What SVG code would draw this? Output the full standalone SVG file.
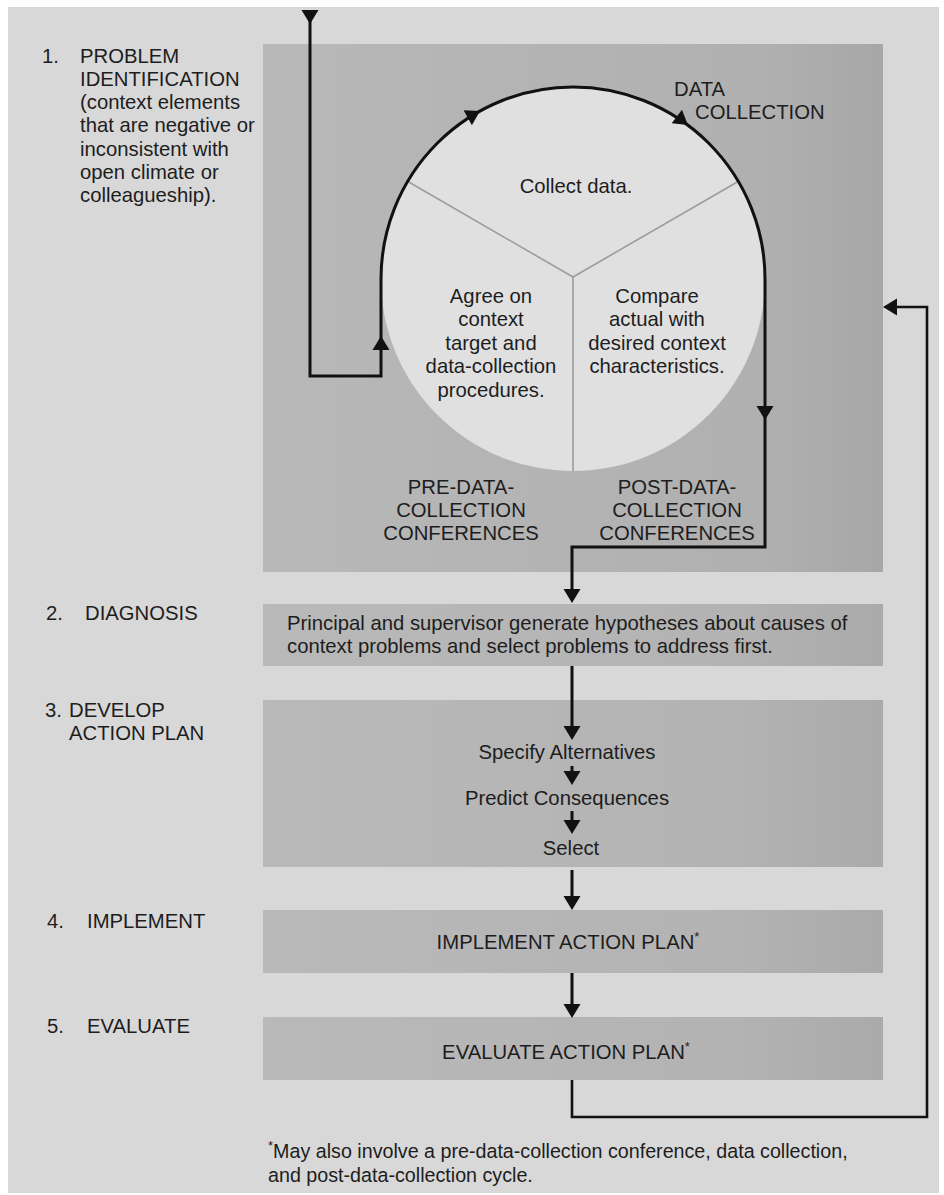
<svg xmlns="http://www.w3.org/2000/svg" xmlns:xlink="http://www.w3.org/1999/xlink" width="944" height="1195" viewBox="0 0 944 1195">
  <style>
    text { font-family: "Liberation Sans", Arial, Helvetica, sans-serif; font-size: 20.3px; fill: #1d1d1d; }
    .c { text-anchor: middle; }
    .note { font-size: 19.7px; }
    .line { fill: none; stroke: #111; stroke-width: 3; stroke-linejoin: miter; }
    .thin { fill: none; stroke: #111; stroke-width: 2.6; }
    .head { fill: #111; }
    .panel { fill: url(#panelFill); }
    .divider { stroke: #9c9c9c; stroke-width: 1.6; fill: none; }
    .sup { font-size: 13px; }
  </style>
  <defs>
    <linearGradient id="panelFill" x1="0" y1="0" x2="1" y2="0">
      <stop offset="0" stop-color="#b9b9b9"/>
      <stop offset="0.75" stop-color="#b3b3b3"/>
      <stop offset="1" stop-color="#aaaaaa"/>
    </linearGradient>
    <linearGradient id="bigFill" x1="0" y1="0" x2="1" y2="0">
      <stop offset="0" stop-color="#b8b8b8"/>
      <stop offset="0.8" stop-color="#b0b0b0"/>
      <stop offset="1" stop-color="#a7a7a7"/>
    </linearGradient>
    <!-- arrowhead, tip at the origin, pointing along +x -->
    <path id="ah" d="M0,0 L-14,-8.5 L-14,8.5 Z"/>
  </defs>

  <!-- paper -->
  <rect x="0" y="0" width="944" height="1195" fill="#ffffff"/>
  <rect x="8" y="7" width="931" height="1186" fill="#d8d8d8"/>

  <!-- stage labels -->
  <g id="label-1">
    <text x="42" y="63">1.</text>
    <text x="80" y="63">PROBLEM</text>
    <text x="80" y="86">IDENTIFICATION</text>
    <text x="80" y="109">(context elements</text>
    <text x="80" y="132">that are negative or</text>
    <text x="80" y="155.5">inconsistent with</text>
    <text x="80" y="178.5">open climate or</text>
    <text x="80" y="201.5">colleagueship).</text>
  </g>
  <g id="label-2">
    <text x="46" y="620">2.</text>
    <text x="85" y="620">DIAGNOSIS</text>
  </g>
  <g id="label-3">
    <text x="45" y="717">3.</text>
    <text x="69" y="717">DEVELOP</text>
    <text x="69" y="740">ACTION PLAN</text>
  </g>
  <g id="label-4">
    <text x="47" y="928">4.</text>
    <text x="87" y="928">IMPLEMENT</text>
  </g>
  <g id="label-5">
    <text x="47" y="1033">5.</text>
    <text x="87" y="1033">EVALUATE</text>
  </g>

  <!-- stage 1: data-collection cycle -->
  <g id="cycle">
    <rect x="263" y="44" width="620" height="528" fill="url(#bigFill)"/>
    <circle cx="573" cy="279" r="192" fill="#e0e0e0"/>
    <path class="divider" d="M573,277 L407,181 M573,277 L739,181 M573,277 V471"/>
    <text class="c" x="576" y="193">Collect data.</text>
    <text class="c" x="491" y="303">Agree on</text>
    <text class="c" x="491" y="326">context</text>
    <text class="c" x="491" y="349.5">target and</text>
    <text class="c" x="491" y="373">data-collection</text>
    <text class="c" x="491" y="396.5">procedures.</text>
    <text class="c" x="657" y="303">Compare</text>
    <text class="c" x="657" y="326">actual with</text>
    <text class="c" x="657" y="349.5">desired context</text>
    <text class="c" x="657" y="373">characteristics.</text>
    <text x="674" y="96">DATA</text>
    <text x="695" y="119">COLLECTION</text>
    <text class="c" x="461" y="494">PRE-DATA-</text>
    <text class="c" x="461" y="517">COLLECTION</text>
    <text class="c" x="461" y="540">CONFERENCES</text>
    <text class="c" x="677" y="494">POST-DATA-</text>
    <text class="c" x="677" y="517">COLLECTION</text>
    <text class="c" x="677" y="540">CONFERENCES</text>
  </g>

  <!-- stage 2 -->
  <g id="diagnosis">
    <rect class="panel" x="263" y="604" width="620" height="62"/>
    <text x="287" y="630">Principal and supervisor generate hypotheses about causes of</text>
    <text x="287" y="652.5">context problems and select problems to address first.</text>
  </g>

  <!-- stage 3 -->
  <g id="action-plan">
    <rect class="panel" x="263" y="700" width="620" height="167"/>
    <text class="c" x="567" y="759">Specify Alternatives</text>
    <text class="c" x="567" y="805">Predict Consequences</text>
    <text class="c" x="571" y="855">Select</text>
  </g>

  <!-- stage 4 -->
  <g id="implement">
    <rect class="panel" x="263" y="910" width="620" height="63"/>
    <text class="c" x="568" y="949">IMPLEMENT ACTION PLAN<tspan class="sup" dy="-8">*</tspan></text>
  </g>

  <!-- stage 5 -->
  <g id="evaluate">
    <rect class="panel" x="263" y="1017" width="620" height="63"/>
    <text class="c" x="566" y="1059">EVALUATE ACTION PLAN<tspan class="sup" dy="-8">*</tspan></text>
  </g>

  <!-- connectors -->
  <g id="connectors">
    <path class="line" d="M310,12 V376 H381 V279 A192,192 0 0 1 765,279 V547 H572 V596"/>
    <path class="line" d="M572,666 V733"/>
    <path class="line" d="M572,766 V778"/>
    <path class="line" d="M572,811 V827"/>
    <path class="line" d="M572,870 V903"/>
    <path class="line" d="M572,973 V1011"/>
    <path class="thin" d="M572,1080 V1117 H927 V307 H890"/>
    <g class="head">
      <use xlink:href="#ah" transform="translate(310,24) rotate(90)"/>
      <use xlink:href="#ah" transform="translate(381,336) rotate(-90)"/>
      <use xlink:href="#ah" transform="translate(480,111) rotate(-29)"/>
      <use xlink:href="#ah" transform="translate(688,125) rotate(37)"/>
      <use xlink:href="#ah" transform="translate(765,420) rotate(90)"/>
      <use xlink:href="#ah" transform="translate(572,603) rotate(90)"/>
      <use xlink:href="#ah" transform="translate(572,740) rotate(90)"/>
      <use xlink:href="#ah" transform="translate(572,785) rotate(90)"/>
      <use xlink:href="#ah" transform="translate(572,834) rotate(90)"/>
      <use xlink:href="#ah" transform="translate(572,910) rotate(90)"/>
      <use xlink:href="#ah" transform="translate(572,1018) rotate(90)"/>
      <use xlink:href="#ah" transform="translate(883,307) rotate(180)"/>
    </g>
  </g>

  <!-- footnote -->
  <g id="footnote">
    <text class="note" x="268" y="1158"><tspan class="sup" dy="-8">*</tspan><tspan dy="8">May also involve a pre-data-collection conference, data collection,</tspan></text>
    <text class="note" x="268" y="1182">and post-data-collection cycle.</text>
  </g>
</svg>
